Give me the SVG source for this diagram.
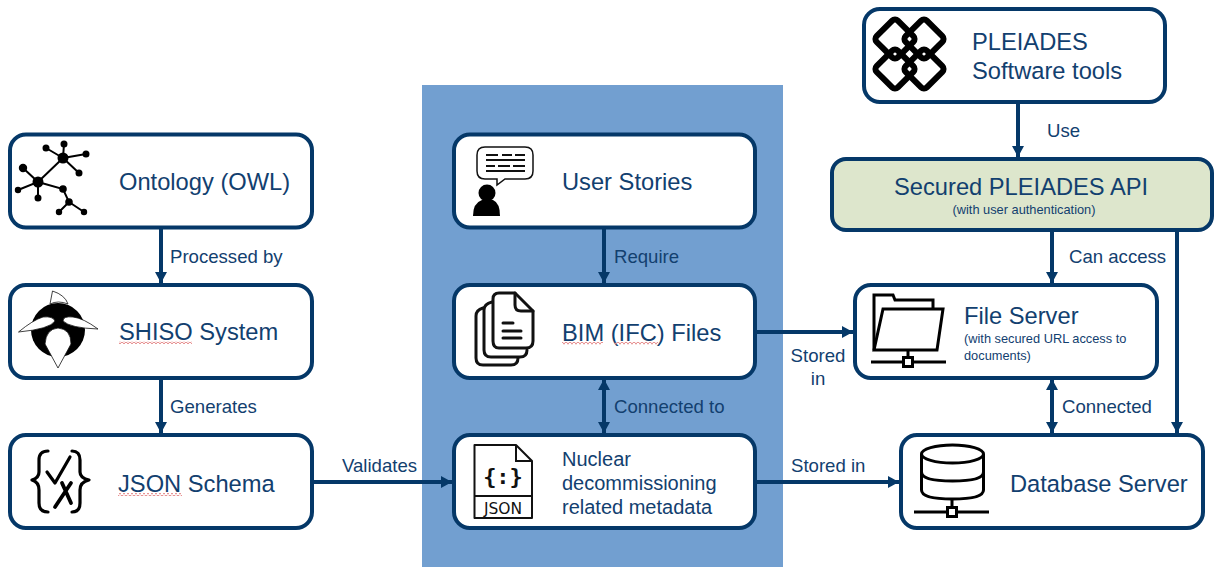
<svg xmlns="http://www.w3.org/2000/svg" width="1214" height="567" viewBox="0 0 1214 567">
<style>
text{font-family:"Liberation Sans",Arial,sans-serif;fill:#12406F}
.t{font-size:23.7px}.l{font-size:18.6px}.m{font-size:20px}.s{font-size:12.8px}
.box{fill:#fff;stroke:#053868;stroke-width:4}
.c{stroke:#053868;stroke-width:4;fill:none;marker-end:url(#a)}
.b{marker-start:url(#as)}
.i{fill:none;stroke:#111;stroke-width:3;stroke-linejoin:round;stroke-linecap:round}
.w{fill:#fff}.k{fill:#000;stroke:none}
.e{stroke:#000;stroke-width:2.2}
</style>
<defs>
<marker id="a" markerUnits="userSpaceOnUse" markerWidth="12" markerHeight="12" refX="11" refY="6" orient="auto"><path d="M0,0L11,6L0,12z" fill="#053868"/></marker>
<marker id="as" markerUnits="userSpaceOnUse" markerWidth="12" markerHeight="12" refX="1" refY="6" orient="auto"><path d="M12,0L1,6L12,12z" fill="#053868"/></marker>
<pattern id="sq" patternUnits="userSpaceOnUse" width="4" height="3"><path d="M0,2.5L1,.5L3,.5L4,2.5" fill="none" stroke="#E58A8A" stroke-width=".9"/></pattern>
</defs>
<rect id="panel" x="422" y="85" width="361" height="482" fill="#729FD0"/>

<g id="connectors">
<path class="c" d="M161,228V283"/>
<path class="c" d="M161,379V433"/>
<path class="c" d="M314,482H452"/>
<path class="c" d="M604,229V283"/>
<path class="c b" d="M604,379V433"/>
<path class="c" d="M757,332H853"/>
<path class="c" d="M757,482H899"/>
<path class="c" d="M1018,103V157"/>
<path class="c" d="M1052,231V283"/>
<path class="c b" d="M1052,379V433"/>
<path class="c" d="M1177,231V433"/>
</g>

<g id="ontology">
<rect class="box" x="10" y="134.500" width="302" height="93" rx="16"/>
<g stroke="#000" stroke-width="2" fill="#000">
<path fill="none" d="M46,148L63,158M64,144L63,158L86,154M63,158L79,173M63,158L38,182M23,168L38,182L18,190M38,182V198M38,182L63,189L69,202L59,212M69,202L84,212"/>
<circle cx="63" cy="158" r="4.500"/><circle cx="46" cy="148" r="2.500"/><circle cx="64" cy="144" r="2.500"/><circle cx="86" cy="154" r="2.500"/><circle cx="79" cy="173" r="2.500"/><circle cx="38" cy="182" r="4.500"/><circle cx="23" cy="168" r="3.200"/><circle cx="18" cy="190" r="2.200"/><circle cx="38" cy="198" r="2.500"/><circle cx="63" cy="189" r="2.800"/><circle cx="69" cy="202" r="2.800"/><circle cx="59" cy="212" r="2.200"/><circle cx="84" cy="212" r="2.200"/>
</g>
<text class="t" x="119" y="190">Ontology (OWL)</text>
</g>

<g id="shiso">
<rect class="box" x="10" y="285" width="302" height="93" rx="16"/>
<circle class="k" cx="58" cy="330" r="27"/>
<g fill="#fff" stroke="#111" stroke-width=".8">
<path d="M50,304L52.500,291Q65,295 68,304Q58,300 50,304z"/>
<path d="M18.500,332Q33,320 43,317Q53,316 55,321Q50,329 18.500,332z"/>
<path d="M98,329Q83,318 73,317Q63,316 63,321Q70,328 98,329z"/>
<path d="M58,368L45,344Q46,329 58,328Q71,329 71,344z"/>
</g>
<text class="t" x="119" y="340">SHISO System</text>
<rect x="119" y="341" width="73" height="3" fill="url(#sq)"/>
</g>

<g id="json-schema">
<rect class="box" x="10" y="435" width="302" height="93" rx="16"/>
<g fill="none" stroke="#000" stroke-width="3.200" stroke-linecap="round" stroke-linejoin="round">
<path d="M48,451Q39,451 39,460V472Q39,478 32,480Q39,482 39,490V503Q39,512 48,512"/>
<path d="M72,451Q80,451 80,460V472Q80,478 89,480Q80,482 80,490V503Q80,512 72,512"/>
<path d="M47,472L55,483L70,457"/>
<path d="M62,483L71,503M71,483L55,507" stroke-width="3.800"/>
</g>
<text class="t" x="118" y="492">JSON Schema</text>
<rect x="118" y="493" width="64" height="3" fill="url(#sq)"/>
</g>

<g id="user-stories">
<rect class="box" x="454" y="134.500" width="301" height="93" rx="16"/>
<path fill="#fff" stroke="#111" stroke-width="1.500" d="M485,147H525Q533,147 533,155V171Q533,179 525,179H505L497,185V179H485Q477,179 477,171V155Q477,147 485,147z"/>
<path stroke="#111" stroke-width="1.800" fill="none" d="M486,155H498M502,155H512M515,155H525M486,160H525M486,166H495M498,166H510M513,166H525M486,171H525"/>
<circle class="k" cx="487" cy="193" r="8.500"/>
<path class="k" d="M473,216Q473,203 482,200H493Q500,203 500,216z"/>
<text class="t" x="562" y="190">User Stories</text>
</g>

<g id="bim-files">
<rect class="box" x="454" y="285" width="301" height="93" rx="16"/>
<g class="i">
<path d="M483,308Q476,310 476,316V358Q476,365 483,365H511Q518,365 518,358"/>
<path d="M492,302Q484,304 484,310V350Q484,357 491,357H520Q527,357 527,350"/>
<path class="w" d="M499,293H515L533,311V341Q533,348 526,348H499Q493,348 493,341V299Q493,293 499,293z"/>
<path d="M515,293V305Q515,311 521,311H533M503,323H513M503,331H521M503,338H521"/>
</g>
<text class="t" x="562" y="341">BIM (IFC) Files</text>
<rect x="562" y="342" width="41" height="3" fill="url(#sq)"/>
<rect x="615" y="342" width="43" height="3" fill="url(#sq)"/>
</g>

<g id="metadata">
<rect class="box" x="454" y="435" width="301" height="93" rx="16"/>
<path fill="#fff" stroke="#111" stroke-width="2" stroke-linejoin="round" d="M474.500,445H516L532,461V518H474.500z"/>
<path fill="none" stroke="#111" stroke-width="2" d="M516,445V461H532M474.500,496H532"/>
<text x="503" y="484" text-anchor="middle" style="font-family:'DejaVu Sans Mono','Liberation Mono',monospace;font-size:22px;font-weight:bold;fill:#111">{:}</text>
<text x="503" y="514" text-anchor="middle" style="font-family:'DejaVu Sans','Liberation Sans',sans-serif;font-size:15.500px;fill:#111">JSON</text>
<text class="m" x="562" y="466">Nuclear</text>
<text class="m" x="562" y="490">decommissioning</text>
<text class="m" x="562" y="514">related metadata</text>
</g>

<g id="pleiades">
<rect class="box" x="864" y="9" width="301" height="93" rx="16"/>
<g fill="none" stroke="#000" stroke-width="6" stroke-linejoin="round">
<rect x="880" y="24" width="30" height="30" rx="4" transform="rotate(45 895 39)"/>
<rect x="909" y="24" width="30" height="30" rx="4" transform="rotate(45 924 39)"/>
<rect x="880" y="54" width="30" height="30" rx="4" transform="rotate(45 895 69)"/>
<rect x="909" y="54" width="30" height="30" rx="4" transform="rotate(45 924 69)"/>
</g>
<text class="t" x="972" y="50">PLEIADES</text>
<text class="t" x="972" y="79">Software tools</text>
</g>

<g id="api">
<rect x="832" y="159" width="380" height="71" rx="14" fill="#DDE6CC" stroke="#053868" stroke-width="4"/>
<text class="t" x="894" y="195">Secured PLEIADES API</text>
<text class="s" x="1024" y="214" text-anchor="middle">(with user authentication)</text>
</g>

<g id="file-server">
<rect class="box" x="855" y="285" width="302" height="93" rx="16"/>
<g fill="none" stroke="#000" stroke-width="3">
<path d="M874,350V295H893L895,300H933V308"/>
<path d="M874,350L883,309H943L937,350z"/>
<path d="M908,350V358M871,362H946"/>
</g>
<rect x="903.500" y="357.500" width="9" height="9" fill="#fff" stroke="#000" stroke-width="3"/>
<text class="t" x="964" y="324">File Server</text>
<text class="s" x="964" y="343">(with secured URL access to</text>
<text class="s" x="964" y="360">documents)</text>
</g>

<g id="database-server">
<rect class="box" x="901" y="435" width="302" height="93" rx="16"/>
<g fill="none" stroke="#000" stroke-width="3">
<ellipse cx="952.500" cy="454" rx="31" ry="9"/>
<path d="M921.500,454V490Q921.500,499 952.500,499Q983.500,499 983.500,490V454M921.500,472Q921.500,481 952.500,481Q983.500,481 983.500,472"/>
<path d="M952,499V508M914,512H989"/>
</g>
<rect x="947.500" y="507.500" width="9" height="9" fill="#fff" stroke="#000" stroke-width="3"/>
<text class="t" x="1010" y="492">Database Server</text>
</g>

<g id="labels">
<text class="l" x="170" y="263">Processed by</text>
<text class="l" x="170" y="413">Generates</text>
<text class="l" x="342" y="472">Validates</text>
<text class="l" x="614" y="263">Require</text>
<text class="l" x="614" y="413">Connected to</text>
<text class="l" x="791" y="472">Stored in</text>
<text class="l" x="818" y="362" text-anchor="middle">Stored</text>
<text class="l" x="818" y="385" text-anchor="middle">in</text>
<text class="l" x="1047" y="137">Use</text>
<text class="l" x="1069" y="263">Can access</text>
<text class="l" x="1062" y="413">Connected</text>
</g>
</svg>
